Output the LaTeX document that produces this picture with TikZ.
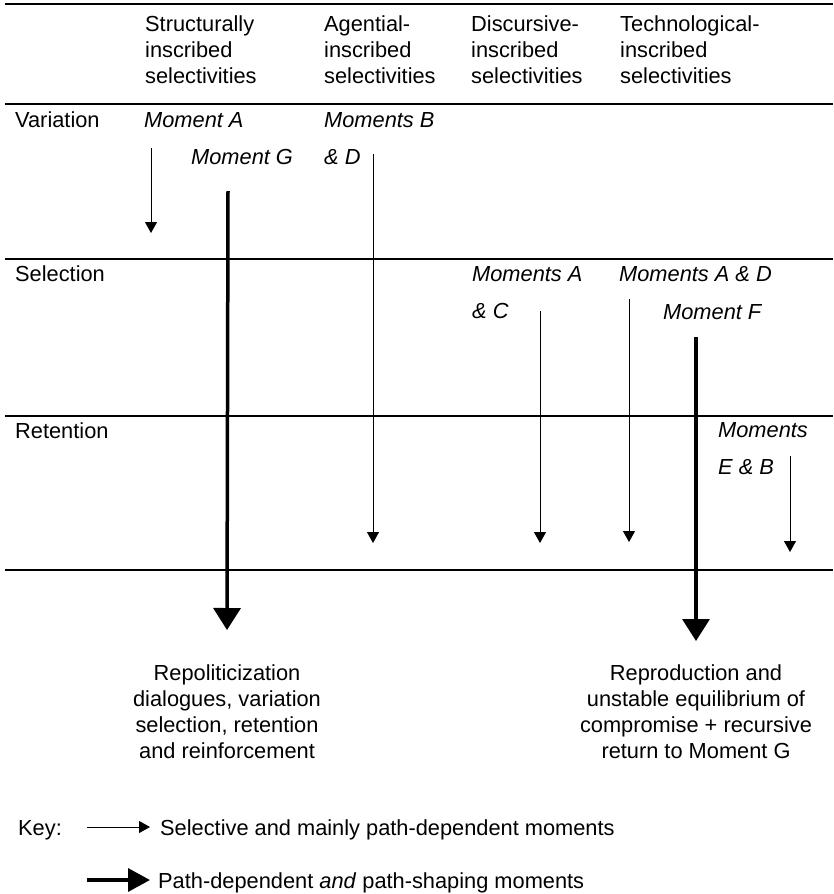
\documentclass[tikz,border=0pt]{standalone}
\usepackage{fontspec}
\setmainfont{Liberation Sans}
\usetikzlibrary{arrows.meta}
\newcommand*{\lineLeft}{5}
\newcommand*{\lineRight}{833}
\newcommand*{\yTop}{4}
\newcommand*{\yHead}{104}
\newcommand*{\ySel}{259}
\newcommand*{\yRet}{416}
\newcommand*{\yBot}{570}

\begin{document}
\begin{tikzpicture}[x=1pt,y=-1pt,
	every node/.style={inner sep=0pt,font=\fontsize{21.8}{26}\selectfont},
	head/.style={anchor=north west,align=left},
	rowlbl/.style={anchor=base west},
	mom/.style={anchor=north west,align=left,font=\fontsize{21.8}{37}\selectfont\itshape},
	outcome/.style={anchor=north,align=center},
	thinarrow/.style={line width=1pt,-{Triangle[length=11pt,width=12pt]}},
	thickarrow/.style={line width=3.5pt,-{Triangle[length=22pt,width=27pt]}}]
	\useasboundingbox (0,0) rectangle (833,894);
	
	\foreach \yy in {\yTop,\yHead,\ySel,\yRet,\yBot}
		\draw [line width=1.2pt] (\lineLeft,\yy) -- (\lineRight,\yy);
	
	\node[head] (hStruct) at (145,16) {Structurally\\inscribed\\selectivities};
	\node[head] (hAgent) at (324,16) {Agential-\\inscribed\\selectivities};
	\node[head] (hDisc) at (471,16) {Discursive-\\inscribed\\selectivities};
	\node[head] (hTech) at (620,16) {Technological-\\inscribed\\selectivities};
	
	\node[rowlbl] (rowVar) at (15,127) {Variation};
	\node[rowlbl] (rowSel) at (15,281) {Selection};
	\node[rowlbl] (rowRet) at (15,438) {Retention};
	
	\node[mom] (momA) at (144,112) {Moment A};
	\node[mom] (momG) at (191,149) {Moment G};
	\node[mom] (momBD) at (324,112) {Moments B\\\& D};
	\node[mom] (momAC) at (472,266) {Moments A\\\& C};
	\node[mom] (momAD) at (619,266) {Moments A \& D};
	\node[mom] (momF) at (663,304) {Moment F};
	\node[mom] (momEB) at (718,422) {Moments\\E \& B};
	
	\node[outcome] (outLeft) at (227,664) {Repoliticization\\dialogues, variation\\selection, retention\\and reinforcement};
	\node[outcome] (outRight) at (696,664) {Reproduction and\\unstable equilibrium of\\compromise + recursive\\return to Moment G};
	
	\coordinate (aTop) at (151,148);
	\coordinate (aBot) at (151,233);
	\coordinate (gTop) at (228,191);
	\coordinate (bdTop) at (373,154);
	\coordinate (bdBot) at (373,543);
	\coordinate (acTop) at (540,311);
	\coordinate (acBot) at (540,543);
	\coordinate (adTop) at (629,299);
	\coordinate (adBot) at (629,542);
	\coordinate (fTop) at (696,337);
	\coordinate (ebTop) at (790,456);
	\coordinate (ebBot) at (790,552);
	
	\draw[thinarrow] (aTop) -- (aBot);
	\draw[thinarrow] (bdTop) -- (bdBot);
	\draw[thinarrow] (acTop) -- (acBot);
	\draw[thinarrow] (adTop) -- (adBot);
	\draw[thinarrow] (ebTop) -- (ebBot);
	\draw[thickarrow] (gTop) -- ([yshift=34pt]outLeft.north);
	\draw[thickarrow] (fTop) -- ([yshift=23pt]outRight.north);
	
	% key
	\node[rowlbl] (keyLbl) at (18,835) {Key:};
	\node[rowlbl] (keyThin) at (160,835) {Selective and mainly path-dependent moments};
	\node[rowlbl] (keyThick) at (158,888) {Path-dependent \textit{and} path-shaping moments};
	\coordinate (kThinA) at (87,827);
	\coordinate (kThinB) at (150,827);
	\coordinate (kThickA) at (87,880);
	\coordinate (kThickB) at (150,880);
	\draw[thinarrow] (kThinA) -- (kThinB);
	\draw[thickarrow,-{Triangle[length=22pt,width=23pt]}] (kThickA) -- (kThickB);
\end{tikzpicture}
\end{document}
